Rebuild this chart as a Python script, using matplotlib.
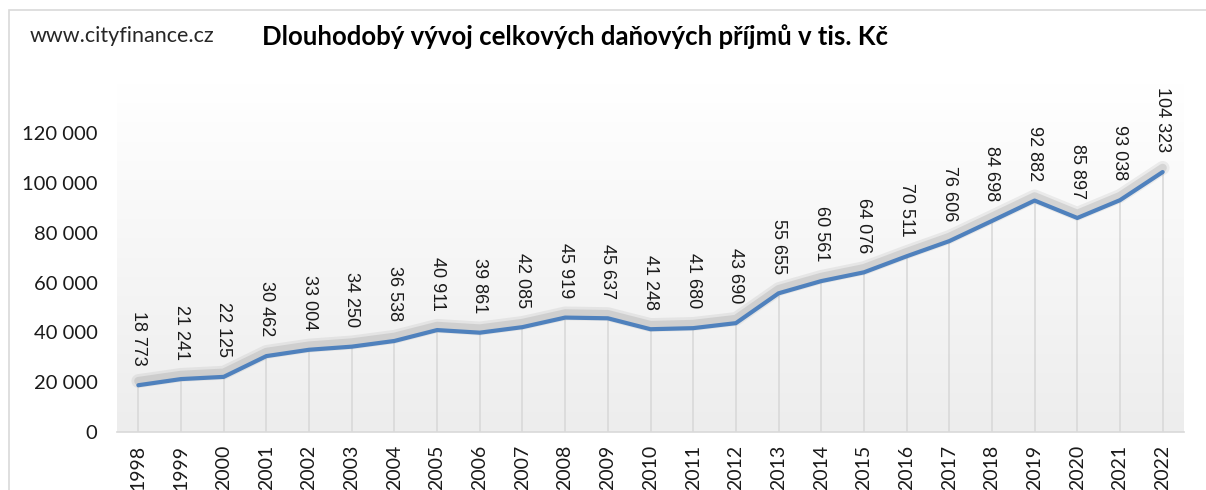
import numpy as np
import matplotlib
matplotlib.use("Agg")
import matplotlib.pyplot as plt
import matplotlib.patheffects as pe
from matplotlib.patches import Rectangle

years = ["1998", "1999", "2000", "2001", "2002", "2003", "2004", "2005", "2006",
         "2007", "2008", "2009", "2010", "2011", "2012", "2013", "2014", "2015",
         "2016", "2017", "2018", "2019", "2020", "2021", "2022"]
values = [18773, 21241, 22125, 30462, 33004, 34250, 36538, 40911, 39861,
          42085, 45919, 45637, 41248, 41680, 43690, 55655, 60561, 64076,
          70511, 76606, 84698, 92882, 85897, 93038, 104323]
yticks = [0, 20000, 40000, 60000, 80000, 100000, 120000]

title = "Dlouhodobý vývoj celkových daňových příjmů v tis. Kč"
source = "www.cityfinance.cz"


def fmt(v):
    return "{:,}".format(v).replace(",", " ")


W, H = 1206, 490
fig = plt.figure(figsize=(W / 100, H / 100), dpi=100)
fig.patch.set_facecolor("white")

# outer frame
fig.add_artist(Rectangle((9 / W, -0.1), 1.2, 1 - 10 / H + 0.1, transform=fig.transFigure,
                         fill=False, edgecolor="#d9d9d9", linewidth=1.2))

# plot area: x from 117 to 1184 px, y from 432 (0) up
left, right = 117 / W, 1184 / W
bottom = 1 - 432 / H
top_px = 432 - 140000 * 299 / 120000
top = 1 - top_px / H
ax = fig.add_axes([left, bottom, right - left, top - bottom])

x = np.arange(len(years))
ax.set_xlim(-0.5, len(years) - 0.5)
ax.set_ylim(0, 140000)

# gradient background
grad = np.linspace(0, 1, 256).reshape(-1, 1)
cmap = matplotlib.colors.LinearSegmentedColormap.from_list("g", ["#ededed", "#ffffff"])
ax.imshow(grad, aspect="auto", cmap=cmap, origin="lower",
          extent=[-0.5, len(years) - 0.5, 0, 140000], zorder=0)

# drop lines
ax.vlines(x, 0, values, color="#d9d9d9", linewidth=1.2, zorder=1)

ax.plot(x, values, color="#4f81bd", linewidth=3, zorder=3, solid_capstyle="round",
        path_effects=[
            pe.SimpleLineShadow(offset=(0, 3), shadow_color="#7f7f7f", alpha=0.12, linewidth=10),
            pe.SimpleLineShadow(offset=(0, 3), shadow_color="#7f7f7f", alpha=0.2, linewidth=6),
            pe.Normal()])

for xi, v in zip(x, values):
    ax.annotate(fmt(v), (xi, v), xytext=(0, 14), textcoords="offset points",
                rotation=270, ha="center", va="bottom", fontsize=13,
                family="Liberation Sans", color="#1a1a1a", annotation_clip=False, zorder=4)

for s in ["top", "right", "left"]:
    ax.spines[s].set_visible(False)
ax.spines["bottom"].set_color("#d9d9d9")
ax.spines["bottom"].set_linewidth(1.2)

ax.set_yticks(yticks)
ax.set_yticklabels([fmt(t) for t in yticks], family="Lato", fontsize=14.5, color="#1a1a1a")
ax.set_xticks(x)
ax.set_xticklabels(years, rotation=90, family="Lato", fontsize=14, color="#1a1a1a", va="top")
ax.tick_params(axis="y", length=0, pad=14)
ax.tick_params(axis="x", length=0, pad=9)

fig.text(30 / W, 1 - 36 / H, source, family="Lato", fontsize=15.5, color="#262626",
         ha="left", va="center")
fig.text(575 / W, 1 - 37 / H, title, family="Lato", fontweight="bold", fontsize=18.5,
         color="black", ha="center", va="center")

fig.savefig("out.png", dpi=100)
